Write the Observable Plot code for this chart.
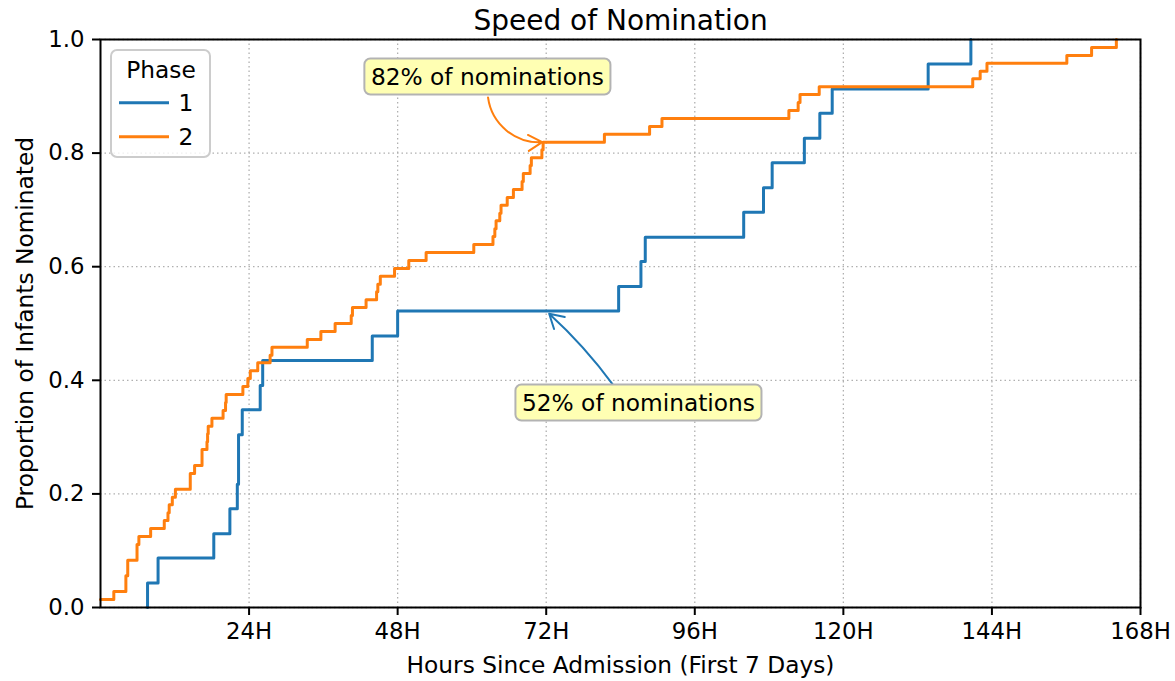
<!DOCTYPE html>
<html>
<head>
<meta charset="utf-8">
<script src="https://cdn.jsdelivr.net/npm/d3@7"></script>
<script src="https://cdn.jsdelivr.net/npm/@observablehq/plot@0.6"></script>
<style>
  body { margin: 0; background: white; }
  svg { display: block; }
</style>
</head>
<body>
<div id="chart"></div>
<script>
// ---- Data ----
const phaseNames = ["1", "2"];
const phaseColors = ["#1f77b4", "#ff7f0e"];

// Phase 1: hours since admission at each step, cumulative proportion after step
const phase1Hours = [7.6, 7.6, 9.3, 18.3, 20.9, 22.1, 22.3, 22.9, 25.8, 26.2, 43.9, 48.0, 83.7, 87.3, 88.0, 103.9, 107.1, 108.5, 113.7, 116.2, 118.2, 133.7, 140.6];
const phase1Prop  = [0, 0.043, 0.087, 0.130, 0.174, 0.217, 0.304, 0.348, 0.391, 0.435, 0.478, 0.522, 0.565, 0.609, 0.652, 0.696, 0.739, 0.783, 0.826, 0.870, 0.913, 0.957, 1.0];

// Phase 2
const phase2Hours = [0, 2.15, 4.1, 4.4, 5.9, 6.2, 8.1, 10.3, 10.9, 11.1, 11.6, 12.1, 14.5, 15.2, 16.4, 17.2, 17.3, 17.4, 18.0, 19.8, 20.2, 20.3, 23.0, 23.8, 24.2, 25.4, 27.4, 27.7, 33.4, 35.6, 37.9, 40.5, 40.7, 42.9, 44.6, 44.8, 45.2, 47.5, 49.8, 52.6, 60.3, 63.4, 63.7, 63.9, 64.5, 64.7, 65.7, 66.7, 68.1, 68.3, 69.4, 69.6, 71.3, 71.5, 81.4, 88.7, 90.7, 111.2, 112.7, 113.0, 116.1, 140.9, 142.1, 143.2, 156.1, 160.1, 164.1];
const phase2Prop  = [0.014, 0.028, 0.056, 0.083, 0.111, 0.125, 0.139, 0.153, 0.167, 0.181, 0.194, 0.208, 0.236, 0.250, 0.278, 0.292, 0.306, 0.319, 0.333, 0.347, 0.361, 0.375, 0.389, 0.403, 0.417, 0.431, 0.444, 0.458, 0.472, 0.486, 0.500, 0.514, 0.528, 0.542, 0.556, 0.569, 0.583, 0.597, 0.611, 0.625, 0.639, 0.653, 0.667, 0.681, 0.694, 0.708, 0.722, 0.736, 0.750, 0.764, 0.778, 0.792, 0.806, 0.819, 0.833, 0.847, 0.861, 0.875, 0.889, 0.903, 0.917, 0.931, 0.944, 0.958, 0.972, 0.986, 1.0];

const xTicks = [24, 48, 72, 96, 120, 144, 168];
const yTicks = [0, 0.2, 0.4, 0.6, 0.8, 1.0];

const titleText = "Speed of Nomination";
const xLabel = "Hours Since Admission (First 7 Days)";
const yLabel = "Proportion of Infants Nominated";
const legendTitle = "Phase";

// Annotations
const annLabels  = ["82% of nominations", "52% of nominations"];
const annTextX   = [62.5, 86.9];
const annTextY   = [0.933, 0.359];
const annStartX  = [62.6, 82.8];
const annStartY  = [0.898, 0.392];
const annTargetX = [72, 72];
const annTargetY = [0.82, 0.522];
const annColor   = ["#ff7f0e", "#1f77b4"];
const annBend    = [-45, -6];

// ---- Build tables ----
const series1 = phase1Hours.map((t, i) => ({t, p: phase1Prop[i]}));
const series2 = phase2Hours.map((t, i) => ({t, p: phase2Prop[i]}));
const ann = annLabels.map((label, i) => ({
  label, tx: annTextX[i], ty: annTextY[i], sx: annStartX[i], sy: annStartY[i],
  ax: annTargetX[i], ay: annTargetY[i], color: annColor[i]
}));

const FONT = "DejaVu Sans";
const TICK_FS = 22.8, LABEL_FS = 23.3, TITLE_FS = 28;

const plot = Plot.plot({
  width: 1175,
  height: 681,
  marginLeft: 100,
  marginRight: 35,
  marginTop: 39,
  marginBottom: 74,
  style: {fontFamily: FONT, fontSize: TICK_FS + "px", background: "white", color: "black", overflow: "visible"},
  x: {domain: [0, 168]},
  y: {domain: [0, 1]},
  marks: [
    Plot.gridX(xTicks, {stroke: "#b0b0b0", strokeOpacity: 1, strokeWidth: 1.3, strokeDasharray: "1.5,3"}),
    Plot.gridY(yTicks, {stroke: "#b0b0b0", strokeOpacity: 1, strokeWidth: 1.3, strokeDasharray: "1.5,3"}),
    Plot.line(series1, {x: "t", y: "p", curve: "step-after", stroke: phaseColors[0], strokeWidth: 3}),
    Plot.line(series2, {x: "t", y: "p", curve: "step-after", stroke: phaseColors[1], strokeWidth: 3}),
    Plot.frame({stroke: "black", strokeWidth: 2}),
    Plot.axisX(xTicks, {tickFormat: d => d + "H", tickSize: 8, tickPadding: 7, strokeWidth: 2, fontSize: TICK_FS, label: null}),
    Plot.axisY(yTicks, {tickFormat: d3.format(".1f"), tickSize: 8, tickPadding: 8, strokeWidth: 2, fontSize: TICK_FS, label: null}),
    Plot.text([xLabel], {frameAnchor: "bottom", lineAnchor: "middle", textAnchor: "middle", dy: 58.5, fontSize: LABEL_FS}),
    Plot.text([yLabel], {frameAnchor: "left", lineAnchor: "middle", textAnchor: "middle", rotate: -90, dx: -75, fontSize: LABEL_FS}),
    Plot.text([titleText], {frameAnchor: "top", lineAnchor: "middle", textAnchor: "middle", dy: -18.6, fontSize: TITLE_FS}),
    ...ann.map((a, i) => Plot.arrow([a], {x1: "sx", y1: "sy", x2: "ax", y2: "ay", stroke: a.color, strokeWidth: 2, bend: annBend[i], headLength: 12, insetEnd: 4})),
    Plot.text(ann, {x: "tx", y: "ty", text: "label", fontSize: LABEL_FS, fill: "black", className: "annot"})
  ]
});

document.getElementById("chart").append(plot);

// Rounded boxes behind annotation text
const svg = d3.select(plot);
svg.selectAll("g.annot text").each(function() {
  const bb = this.getBBox();
  const pad = 6.5;
  d3.select(this.parentNode).insert("rect", () => this)
    .attr("transform", this.getAttribute("transform"))
    .attr("x", bb.x - pad).attr("y", bb.y - pad + 2)
    .attr("width", bb.width + 2 * pad).attr("height", bb.height + 2 * pad - 4)
    .attr("rx", 6).attr("ry", 6)
    .attr("fill", "#ffffb3").attr("stroke", "#b3b3b3").attr("stroke-width", 2);
});

// Legend
const lg = svg.append("g").attr("font-family", FONT).attr("font-size", LABEL_FS);
lg.append("rect").attr("x", 111).attr("y", 50).attr("width", 99).attr("height", 107)
  .attr("rx", 6).attr("fill", "white").attr("fill-opacity", 0.8)
  .attr("stroke", "#cccccc").attr("stroke-width", 2);
lg.append("text").attr("x", 161).attr("y", 78).attr("text-anchor", "middle").text(legendTitle);
phaseNames.forEach((name, i) => {
  const yy = 102.7 + i * 34;
  lg.append("line").attr("x1", 119).attr("x2", 169).attr("y1", yy).attr("y2", yy)
    .attr("stroke", phaseColors[i]).attr("stroke-width", 3);
  lg.append("text").attr("x", 186).attr("y", yy + 8.5).text(name);
});
</script>
</body>
</html>
